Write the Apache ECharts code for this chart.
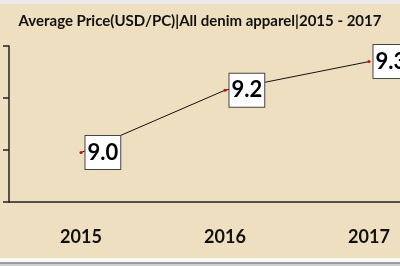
<!DOCTYPE html>
<html>
<head>
<meta charset="utf-8">
<style>html,body{margin:0;padding:0;background:#efdfc1;}#c{width:400px;height:266px;}</style>
<script src="https://cdn.jsdelivr.net/npm/echarts@6/dist/echarts.min.js"></script>
</head>
<body>
<div id="c"></div>
<script>
var categories = ['2015', '2016', '2017'];
var values = [8.99, 9.23, 9.34];
var titleText = 'Average Price(USD/PC)|All denim apparel|2015 - 2017';

var chart = echarts.init(document.getElementById('c'));
chart.setOption({
  backgroundColor: '#efdfc1',
  animation: false,
  title: {
    text: titleText,
    left: 'center',
    top: 9,
    textStyle: { fontFamily: 'Lato', fontWeight: 'bold', fontSize: 15, color: '#111' }
  },
  graphic: [
    { type: 'rect', shape: { x: 0, y: 0, width: 400, height: 4 }, style: { fill: '#e9e9e9' }, z: 100 },
    { type: 'rect', shape: { x: 0, y: 258, width: 400, height: 4 }, style: { fill: '#f8f8f8' }, z: 100 },
    { type: 'rect', shape: { x: 0, y: 262, width: 400, height: 2 }, style: { fill: '#9c9c9c' }, z: 100 },
    { type: 'rect', shape: { x: 0, y: 264, width: 400, height: 2 }, style: { fill: '#cfcfcf' }, z: 100 }
  ],
  grid: { left: 9, top: 46, width: 432, height: 156, containLabel: false, outerBoundsMode: 'none' },
  xAxis: {
    type: 'category',
    data: categories,
    boundaryGap: true,
    axisLine: { lineStyle: { color: '#222', width: 1.5 } },
    axisTick: { show: false },
    axisLabel: { margin: 26, fontFamily: 'Lato', fontWeight: 'bold', fontSize: 18, color: '#111' }
  },
  yAxis: {
    type: 'value',
    min: 8.8,
    max: 9.4,
    interval: 0.2,
    axisLine: { show: true, lineStyle: { color: '#222', width: 1.5 } },
    axisTick: { show: true, length: 6, lineStyle: { color: '#222', width: 1.5 } },
    axisLabel: { show: false },
    splitLine: { show: false }
  },
  series: [{
    type: 'line',
    data: values,
    symbol: 'circle',
    symbolSize: 3,
    itemStyle: { color: '#e00000' },
    lineStyle: { color: '#111', width: 1 },
    label: {
      show: true,
      position: 'right',
      distance: 3,
      formatter: function (p) { return p.value.toFixed(1); },
      fontFamily: 'Lato',
      fontWeight: 'bold',
      fontSize: 22,
      color: '#000',
      backgroundColor: '#fff',
      borderColor: '#444',
      borderWidth: 1,
      padding: [4, 2, 3, 2],
      lineHeight: 26
    },
    z: 5
  }]
});
</script>
</body>
</html>
